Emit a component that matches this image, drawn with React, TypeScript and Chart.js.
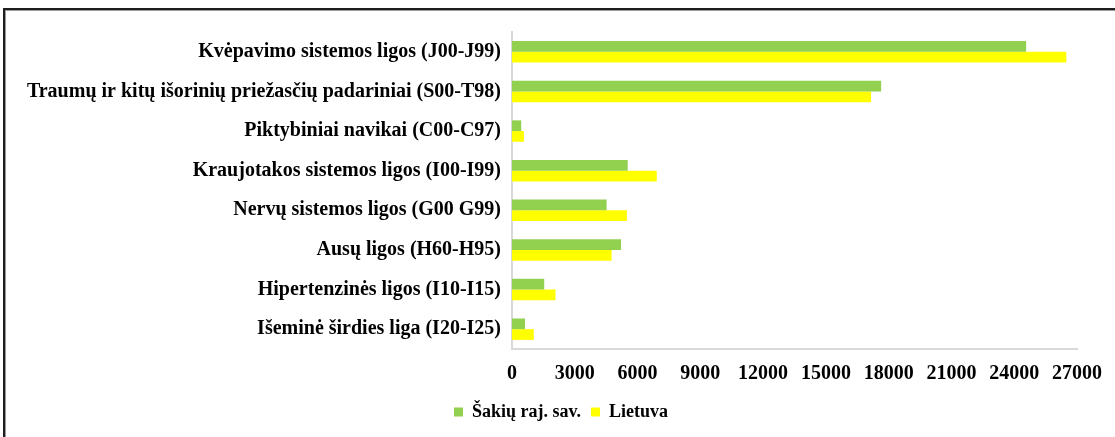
import React, { useEffect, useRef } from "react";
import { Chart, registerables } from "chart.js";

Chart.register(...registerables);

const categories = [
  "Kvėpavimo sistemos ligos (J00-J99)",
  "Traumų ir kitų išorinių priežasčių padariniai (S00-T98)",
  "Piktybiniai navikai (C00-C97)",
  "Kraujotakos sistemos ligos (I00-I99)",
  "Nervų sistemos ligos (G00 G99)",
  "Ausų ligos (H60-H95)",
  "Hipertenzinės ligos (I10-I15)",
  "Išeminė širdies liga (I20-I25)",
];

const sakiuValues = [24570, 17640, 440, 5530, 4520, 5210, 1540, 620];
const lietuvaValues = [26490, 17160, 570, 6920, 5490, 4760, 2080, 1040];

const seriesNames = ["Šakių raj. sav.", "Lietuva"];
const xMin = 0;
const xMax = 27000;
const xStep = 3000;

const FONT = "'Liberation Serif', 'Times New Roman', serif";

const legendShift = {
  id: "legendShift",
  afterLayout(chart: any) {
    const l = chart.legend;
    if (l) {
      l.left += 22;
      l.right += 22;
    }
  },
};

export default function App() {
  const canvasRef = useRef<HTMLCanvasElement | null>(null);

  useEffect(() => {
    if (!canvasRef.current) return;
    const chart = new Chart(canvasRef.current, {
      type: "bar",
      data: {
        labels: categories,
        datasets: [
          {
            label: seriesNames[0],
            data: sakiuValues,
            backgroundColor: "#92d050",
            borderWidth: 0,
            categoryPercentage: 0.54,
            barPercentage: 1.0,
          },
          {
            label: seriesNames[1],
            data: lietuvaValues,
            backgroundColor: "#ffff00",
            borderWidth: 0,
            categoryPercentage: 0.54,
            barPercentage: 1.0,
          },
        ],
      },
      plugins: [legendShift],
      options: {
        indexAxis: "y",
        animation: false,
        responsive: false,
        maintainAspectRatio: false,
        layout: { padding: { top: 32, right: 37, left: 0, bottom: 6 } },
        plugins: {
          tooltip: { enabled: false },
          legend: {
            position: "bottom",
            labels: {
              boxWidth: 9,
              boxHeight: 9,
              padding: 10,
              color: "#000",
              font: { family: FONT, size: 18, weight: "bold" },
            },
          },
        },
        scales: {
          x: {
            min: xMin,
            max: xMax,
            grid: { display: false, drawTicks: false },
            border: { display: true, color: "#d9d9d9", width: 2 },
            ticks: {
              stepSize: xStep,
              autoSkip: false,
              maxRotation: 0,
              padding: 13,
              color: "#000",
              font: { family: FONT, size: 20, weight: "bold" },
              callback: (v: any) => String(v),
            },
            afterFit: (scale: any) => {
              scale.height = 44;
            },
          },
          y: {
            grid: { display: false, drawTicks: false },
            border: { display: true, color: "#d9d9d9", width: 2 },
            ticks: {
              autoSkip: false,
              padding: 11,
              color: "#000",
              font: { family: FONT, size: 20, weight: "bold" },
            },
            afterFit: (scale: any) => {
              scale.width = 512;
            },
          },
        },
      },
    });
    return () => chart.destroy();
  }, []);

  return (
    <div style={{ position: "fixed", left: 0, top: 0, width: 1115, height: 437, background: "#fff" }}>
      <div
        style={{
          position: "absolute",
          left: 3,
          top: 8,
          width: 1200,
          height: 500,
          boxSizing: "border-box",
          borderTop: "2px solid #1e1e1e",
          borderLeft: "2px solid #1e1e1e",
          boxShadow: "inset 1px 1px 0 #9a9a9a",
        }}
      />
      <canvas
        ref={canvasRef}
        width={1115}
        height={437}
        style={{ position: "absolute", left: 0, top: 0, width: 1115, height: 437 }}
      />
    </div>
  );
}
